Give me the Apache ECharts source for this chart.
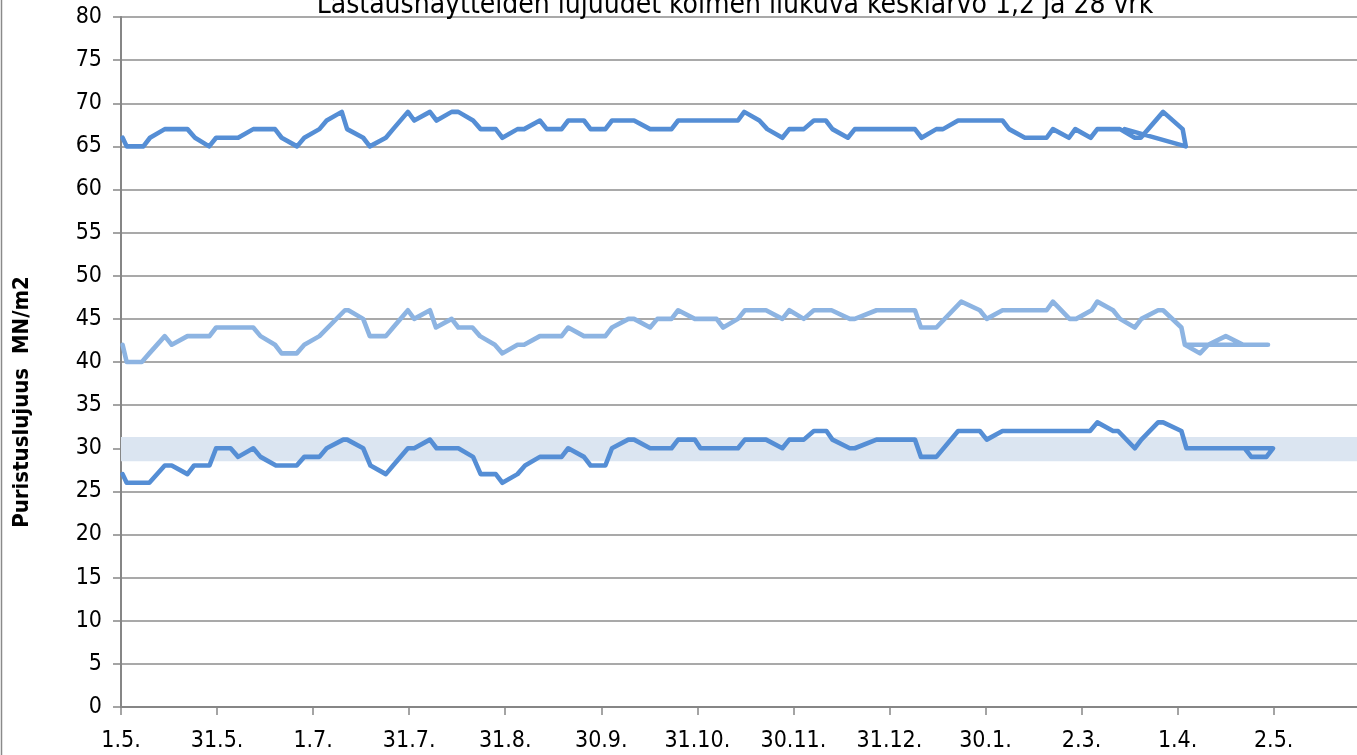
<!DOCTYPE html>
<html>
<head>
<meta charset="utf-8">
<script src="https://cdn.jsdelivr.net/npm/echarts@6/dist/echarts.min.js"></script>
<style>
html,body{margin:0;padding:0;background:#fff;}
#chart{width:1357px;height:755px;}
</style>
</head>
<body>
<div id="chart"></div>
<script>
// x values: days since 1.5.
const titleText = 'Lastausnäytteiden lujuudet kolmen liukuva keskiarvo 1,2 ja 28 vrk';
const yAxisTitle = 'Puristuslujuus  MN/m2';
const xTickLabels = ['1.5.','31.5.','1.7.','31.7.','31.8.','30.9.','31.10.','30.11.','31.12.','30.1.','2.3.','1.4.','2.5.'];
const xTickStepDays = 30.5;
const targetBand = [28.5, 31.3];

const series28 = [[0.5,66],[1.8,65],[7.1,65],[9.2,66],[13.9,67],[21.1,67],[23.5,66],[28.0,65],[30.2,66],[37.2,66],[42.0,67],[48.9,67],[51.0,66],[55.9,65],[58.2,66],[63.0,67],[65.3,68],[70.1,69],[71.8,67],[76.9,66],[79.0,65],[84.1,66],[86.4,67],[91.1,69],[93.1,68],[98.1,69],[100.2,68],[105.0,69],[107.1,69],[111.8,68],[114.2,67],[119.0,67],[121.1,66],[125.9,67],[128.0,67],[133.0,68],[135.2,67],[139.9,67],[142.0,68],[147.0,68],[149.1,67],[153.8,67],[155.9,68],[162.9,68],[168.0,67],[174.8,67],[176.9,68],[195.9,68],[197.9,69],[202.7,68],[205.2,67],[210.0,66],[212.2,67],[216.8,67],[220.0,68],[223.8,68],[225.9,67],[230.8,66],[233.0,67],[252.1,67],[254.2,66],[258.9,67],[261.0,67],[265.8,68],[279.9,68],[282.0,67],[287.0,66],[293.9,66],[295.9,67],[301.0,66],[303.0,67],[307.9,66],[310.0,67],[315.0,67],[317.2,67],[321.9,66],[323.8,66],[330.9,69],[337.1,67],[338.1,65],[318.7,67]];

const series2 = [[0.5,42],[1.8,40],[6.6,40],[9.0,41],[13.9,43],[16.1,42],[21.1,43],[28.1,43],[30.2,44],[42.0,44],[44.3,43],[48.9,42],[51.0,41],[55.8,41],[58.2,42],[63.0,43],[71.1,46],[72.2,46],[76.9,45],[79.0,43],[84.1,43],[86.4,44],[91.1,46],[93.1,45],[98.1,46],[100.0,44],[105.0,45],[107.1,44],[111.6,44],[114.0,43],[118.7,42],[121.1,41],[125.9,42],[128.0,42],[133.0,43],[139.9,43],[142.0,44],[147.0,43],[153.8,43],[155.9,44],[161.1,45],[162.9,45],[168.0,44],[170.3,45],[174.8,45],[176.9,46],[182.2,45],[189.1,45],[191.2,44],[195.9,45],[198.1,46],[204.8,46],[210.0,45],[212.2,46],[216.8,45],[220.0,46],[225.6,46],[231.4,45],[233.0,45],[239.9,46],[252.1,46],[254.0,44],[258.9,44],[266.8,47],[272.7,46],[274.9,45],[279.9,46],[293.9,46],[295.9,47],[301.2,45],[303.3,45],[308.2,46],[310.0,47],[315.0,46],[317.2,45],[321.9,44],[324.0,45],[329.3,46],[330.9,46],[336.7,44],[337.8,42],[342.6,41],[345.2,42],[350.8,43],[356.3,42],[364.2,42],[338.4,42]];

const series1 = [[0.5,27],[1.8,26],[9.0,26],[13.9,28],[16.1,28],[21.1,27],[23.2,28],[28.1,28],[30.2,30],[34.8,30],[37.2,29],[42.0,30],[44.3,29],[49.2,28],[55.8,28],[58.2,29],[63.0,29],[65.3,30],[70.6,31],[71.8,31],[76.9,30],[79.2,28],[84.1,27],[86.4,28],[91.1,30],[93.1,30],[98.1,31],[100.2,30],[107.1,30],[111.8,29],[114.2,27],[119.0,27],[121.1,26],[125.9,27],[128.3,28],[133.0,29],[139.9,29],[142.0,30],[147.0,29],[149.1,28],[153.8,28],[155.9,30],[161.1,31],[162.9,31],[168.0,30],[174.8,30],[176.9,31],[182.2,31],[184.0,30],[195.9,30],[198.1,31],[204.8,31],[210.0,30],[212.2,31],[216.8,31],[220.0,32],[224.0,32],[225.9,31],[231.4,30],[233.0,30],[239.9,31],[252.1,31],[254.0,29],[258.9,29],[265.8,32],[272.7,32],[274.9,31],[279.9,32],[307.7,32],[310.0,33],[315.0,32],[316.6,32],[321.9,30],[324.0,31],[329.3,33],[330.9,33],[336.7,32],[338.3,30],[356.8,30],[358.9,29],[363.7,29],[365.8,30],[339.3,30]];

const FONT = "'Liberation Sans Narrow', 'DejaVu Sans Condensed', 'Liberation Sans', sans-serif";
const chart = echarts.init(document.getElementById('chart'), null, {renderer: 'canvas'});
const lineCommon = {type: 'line', showSymbol: false, symbol: 'none', animation: false, lineStyle: {width: 4.6, cap: 'round', join: 'round'}};
chart.setOption({
  animation: false,
  backgroundColor: '#fff',
  grid: {left: 121, top: 17, right: -8, bottom: 48, containLabel: false, outerBoundsMode: 'none'},
  graphic: [
    {type: 'line', shape: {x1: 1.5, y1: 0, x2: 1.5, y2: 755}, style: {stroke: '#8a8a8a', lineWidth: 1.5}, z: 10},
    {type: 'text', x: 735, y: 20, style: {text: titleText, font: '28px ' + FONT, fill: '#000', textAlign: 'center', textVerticalAlign: 'bottom'}, z: 10},
    {type: 'text', x: 22, y: 402, rotation: Math.PI / 2, style: {text: yAxisTitle, font: 'bold 22px ' + FONT, fill: '#000', textAlign: 'center', textVerticalAlign: 'middle'}, z: 10}
  ],
  xAxis: {
    type: 'value', min: 0, max: 395, interval: xTickStepDays,
    axisLine: {show: true, lineStyle: {color: '#868686', width: 2}},
    axisTick: {show: true, length: 8, lineStyle: {color: '#868686', width: 1.5}},
    splitLine: {show: false},
    axisLabel: {
      margin: 23, color: '#000', fontSize: 23, fontFamily: FONT, showMaxLabel: false,
      formatter: function (v) { const i = Math.round(v / xTickStepDays); return (Math.abs(i * xTickStepDays - v) < 0.01 && xTickLabels[i]) ? xTickLabels[i] : ''; }
    }
  },
  yAxis: {
    type: 'value', min: 0, max: 80, interval: 5,
    axisLine: {show: true, lineStyle: {color: '#868686', width: 2}},
    axisTick: {show: true, length: 8, lineStyle: {color: '#868686', width: 1.5}},
    splitLine: {show: true, lineStyle: {color: '#8c8c8c', width: 1.5}},
    axisLabel: {margin: 19, color: '#000', fontSize: 23, fontFamily: FONT}
  },
  series: [
    {type: 'line', data: [], silent: true, markArea: {silent: true, itemStyle: {color: '#dbe5f1'}, data: [[{yAxis: targetBand[0]}, {yAxis: targetBand[1]}]]}, z: 1},
    Object.assign({}, lineCommon, {name: '28 vrk', data: series28, color: '#558ed5', z: 3}),
    Object.assign({}, lineCommon, {name: '2 vrk', data: series2, color: '#8db4e2', z: 3}),
    Object.assign({}, lineCommon, {name: '1 vrk', data: series1, color: '#558ed5', z: 3})
  ]
});
</script>
</body>
</html>
